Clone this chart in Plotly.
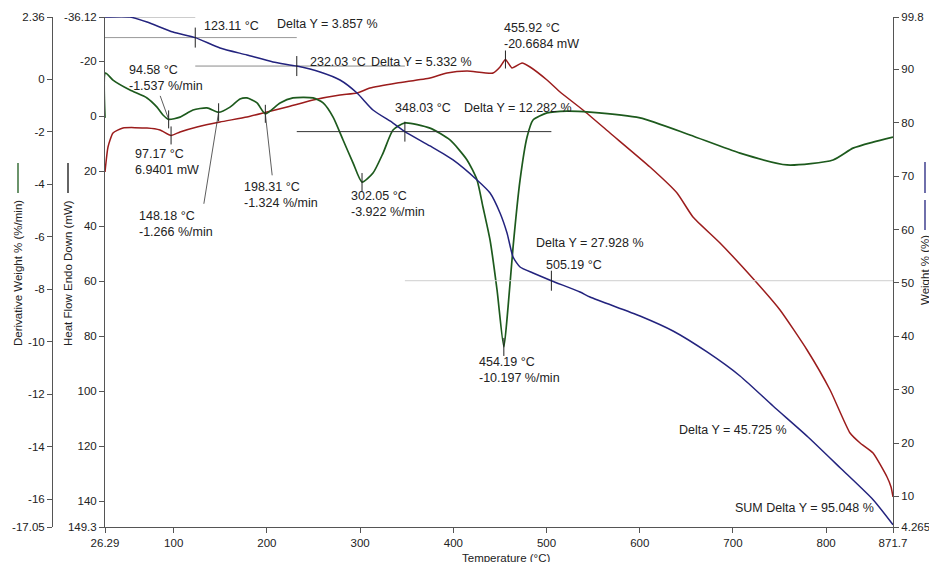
import plotly.graph_objects as go

# ---- Thermogram data -------------------------------------------------------
# Weight % (TGA) vs temperature
temp_w = [26.29, 53.1, 71.4, 99.2, 123.11, 149.7, 178.6, 206.5, 232.03, 257.0,
          278.4, 296.7, 313.8, 335.3, 348.03, 375.0, 399.7, 425.4, 439.4, 450.1,
          457.6, 464.1, 471.6, 485.5, 505.19, 535.9, 546.6, 600.3, 635.7, 672.2,
          707.6, 743.0, 780.5, 815.2, 850.6, 871.7]
weight = [99.8, 99.8, 98.86, 96.99, 95.94, 94.0, 92.68, 91.37, 90.61, 89.5,
          88.0, 85.56, 82.38, 79.94, 78.33, 75.64, 73.02, 69.27, 66.83, 63.09,
          59.34, 54.84, 52.97, 51.85, 50.40, 48.29, 47.35, 43.79, 40.98, 37.05,
          32.55, 26.93, 21.13, 15.32, 9.33, 4.68]

# Derivative weight % (DTG, %/min)
temp_d = [26.29, 26.8, 34.87, 53.11, 71.35, 82.08, 88.52, 94.58, 106.76, 120.71,
          135.73, 148.18, 160.4, 171.1, 178.6, 189.4, 198.31, 214.1, 228.0, 249.5,
          260.3, 271.0, 281.7, 292.5, 302.05, 313.8, 324.6, 335.3, 348.2, 375.0,
          396.4, 414.7, 425.4, 431.8, 439.4, 446.9, 454.19, 458.7, 464.1, 471.6,
          479.1, 485.5, 500.5, 521.8, 546.6, 600.3, 653.9, 707.6, 758.0, 807.4,
          828.8, 850.3, 871.7]
deriv = [-1.48, 0.23, -0.04, -0.42, -0.72, -1.07, -1.37, -1.537, -1.45, -1.18,
         -1.10, -1.266, -1.07, -0.76, -0.72, -0.91, -1.324, -0.91, -0.72, -0.72,
         -0.91, -1.45, -2.32, -3.20, -3.922, -3.58, -2.82, -1.94, -1.67, -1.87,
         -2.32, -3.08, -3.84, -4.87, -6.13, -8.03, -10.197, -8.68, -6.39, -3.84,
         -2.21, -1.56, -1.29, -1.22, -1.26, -1.48, -2.13, -2.82, -3.27, -3.08,
         -2.63, -2.40, -2.21]

# Heat flow (DSC, mW, endo down)
temp_h = [26.29, 29.51, 34.87, 45.6, 71.35, 85.3, 97.17, 106.76, 125.0, 149.7,
          178.6, 200.1, 221.6, 249.5, 278.4, 296.7, 310.6, 339.6, 375.0, 393.2,
          414.7, 442.6, 450.1, 455.92, 462.9, 473.7, 482.3, 500.5, 514.5, 539.1,
          568.1, 611.0, 640.0, 657.1, 686.1, 725.8, 750.5, 779.5, 804.2, 825.6,
          836.4, 850.3, 865.3, 869.6, 871.7]
heat = [20.23, 11.14, 6.05, 4.24, 4.24, 4.96, 6.9401, 5.69, 3.87, 2.05,
        0.24, -1.58, -3.40, -5.94, -7.76, -8.49, -10.31, -12.12, -13.94, -15.76,
        -16.49, -15.76, -17.94, -20.6684, -17.58, -19.40, -17.94, -13.21, -8.85, -2.31,
        6.05, 18.42, 27.87, 36.59, 46.05, 60.59, 70.41, 84.95, 99.49, 115.13,
        118.76, 122.40, 131.12, 134.76, 138.39]

# Weight-loss steps (step end temperatures and step sizes)
start_weight = 99.8
step_temps = [123.11, 232.03, 348.03, 505.19]
step_deltas = [3.857, 5.332, 12.282, 27.928]
last_delta = 45.725
sum_delta = 95.048

# DTG peaks and DSC peaks
dtg_peak_t = [94.58, 148.18, 198.31, 302.05, 454.19]
dtg_peak_v = [-1.537, -1.266, -1.324, -3.922, -10.197]
dsc_peak_t = [97.17, 455.92]
dsc_peak_v = [6.9401, -20.6684]

# Axis ticks
x_ticks = [26.29, 100, 200, 300, 400, 500, 600, 700, 800, 871.7]
hf_ticks = [-36.12, -20, 0, 20, 40, 60, 80, 100, 120, 140, 149.3]
dw_ticks = [2.36, 0, -2, -4, -6, -8, -10, -12, -14, -16, -17.05]
w_ticks = [99.8, 90, 80, 70, 60, 50, 40, 30, 20, 10, 4.265]

# ---- Styling ---------------------------------------------------------------
W, H = 929, 562
PL, PR, PT, PB = 105, 893, 17, 527
FONT = "Liberation Sans, Arial, sans-serif"
TXT = "#222222"
GREEN = "#1d5a1d"
RED = "#9b1c1c"
BLUE = "#23237e"
AX = "#555555"


def fmt(v):
    return f"{v:g}"


def py(pix):
    """vertical pixel -> paper fraction"""
    return (PB - pix) / (PB - PT)


fig = go.Figure()

# level lines of the weight-loss steps
levels = [start_weight]
for d in step_deltas:
    levels.append(levels[-1] - d)
final_weight = levels[-1] - last_delta
bounds = [temp_w[0]] + step_temps + [temp_w[-1]]
level_colors = ["#9a9a9a", "#9a9a9a", "#8a8a8a", "#333333", "#cfcfcf"]
for i, lv in enumerate(levels):
    x0 = bounds[max(i - 1, 0)]
    x1 = bounds[min(i + 1, len(bounds) - 1)]
    fig.add_trace(go.Scatter(x=[x0, x1], y=[lv, lv], yaxis="y3", mode="lines",
                             line=dict(color=level_colors[i], width=1),
                             hoverinfo="skip", showlegend=False))

fig.add_trace(go.Scatter(x=temp_h, y=heat, yaxis="y", mode="lines",
                         line=dict(color=RED, width=1.5, shape="spline", smoothing=0.5),
                         name="Heat Flow", showlegend=False))
fig.add_trace(go.Scatter(x=temp_w, y=weight, yaxis="y3", mode="lines",
                         line=dict(color=BLUE, width=1.5, shape="spline", smoothing=0.6),
                         name="Weight", showlegend=False))
fig.add_trace(go.Scatter(x=temp_d, y=deriv, yaxis="y2", mode="lines",
                         line=dict(color=GREEN, width=1.7, shape="spline", smoothing=0.6),
                         name="Derivative Weight", showlegend=False))

shapes = []
annotations = []


def tick_mark(x, y, yref, half=9):
    shapes.append(dict(type="line", xref="x", yref=yref, x0=x, x1=x,
                       ysizemode="pixel", yanchor=y, y0=-half, y1=half,
                       line=dict(color="#222222", width=1)))


def label(x, y, yref, text, xs, ys, size=12.5):
    annotations.append(dict(x=x, y=y, xref="x", yref=yref, text=text,
                            showarrow=False, xanchor="left", yanchor="middle",
                            align="left", xshift=xs, yshift=ys,
                            font=dict(family=FONT, size=size, color=TXT)))


def leader(x, y, yref, ax, ay):
    annotations.append(dict(x=x, y=y, xref="x", yref=yref, text="",
                            showarrow=True, arrowhead=0, arrowwidth=0.8,
                            arrowcolor="#333333", ax=ax, ay=ay,
                            standoff=0, startstandoff=0))


# weight-loss step markers and labels
step_levels = levels[1:]
for t, lv in zip(step_temps, step_levels):
    tick_mark(t, lv, "y3", 10)

label(step_temps[0], step_levels[0], "y3", f"{step_temps[0]:.2f} °C", 7, 12)
label(step_temps[0], step_levels[0], "y3", f"Delta Y = {step_deltas[0]:.3f} %", 80, 14)
label(step_temps[1], step_levels[1], "y3", f"{step_temps[1]:.2f} °C", 11, 4)
label(step_temps[1], step_levels[1], "y3", f"Delta Y = {step_deltas[1]:.3f} %", 72, 4)
label(step_temps[2], step_levels[2], "y3", f"{step_temps[2]:.2f} °C", -12, 24)
label(step_temps[2], step_levels[2], "y3", f"Delta Y = {step_deltas[2]:.3f} %", 57, 24)
label(step_temps[3], step_levels[3], "y3", f"{step_temps[3]:.2f} °C", -7, 16)
label(step_temps[3], step_levels[3], "y3", f"Delta Y = {step_deltas[3]:.3f} %", -17, 38)
label(step_temps[3], step_levels[3], "y3", f"Delta Y = {last_delta:.3f} %", 126, -149)
label(temp_w[-1], final_weight, "y3", f"SUM Delta Y = {sum_delta:.3f} %", -160, 17)

# DTG peaks
dtg_offsets = [(-42, 41), (-82, -112), (-23, -81), (-13, -22), (-27, -23)]
for t, v, (xs, ys) in zip(dtg_peak_t, dtg_peak_v, dtg_offsets):
    tick_mark(t, v, "y2", 9)
    label(t, v, "y2", f"{t:.2f} °C<br>{v:.3f} %/min", xs, ys)
leader(dtg_peak_t[0], dtg_peak_v[0], "y2", -9, -25)
leader(dtg_peak_t[1], dtg_peak_v[1], "y2", -15, 93)
leader(dtg_peak_t[2], dtg_peak_v[2], "y2", 7, 63)

# DSC peaks
dsc_offsets = [(-38, -27), (-3, 24)]
for t, v, (xs, ys) in zip(dsc_peak_t, dsc_peak_v, dsc_offsets):
    tick_mark(t, v, "y", 9)
    label(t, v, "y", f"{t:.2f} °C<br>{v:.4f} mW", xs, ys)

# axis titles with their line keys
title_font = dict(family=FONT, size=11.5, color=TXT)
for xpix, ypix, txt in [(18, 273, "Derivative Weight % (%/min)"),
                        (68, 273, "Heat Flow Endo Down (mW)"),
                        (925, 270, "Weight % (%)")]:
    annotations.append(dict(x=xpix / W, y=py(ypix), xref="paper", yref="paper",
                            text=txt, textangle=-90, showarrow=False,
                            xanchor="center", yanchor="middle", font=title_font))
annotations.append(dict(x=506 / W, y=py(558), xref="paper", yref="paper",
                        text="Temperature (°C)", showarrow=False,
                        xanchor="center", yanchor="middle", font=title_font))

for xpix, (y0, y1), col in [(18, (163, 193), GREEN), (68, (163, 193), "#111111"),
                            (925, (162, 193), BLUE), (925, (200, 230), BLUE)]:
    shapes.append(dict(type="line", xref="paper", yref="paper",
                       x0=xpix / W, x1=xpix / W, y0=py(y0), y1=py(y1),
                       line=dict(color=col, width=1.3)))

tickfont = dict(family=FONT, size=11.5, color=TXT)
common = dict(showgrid=False, zeroline=False, showline=True, linecolor=AX,
              linewidth=1, ticks="outside", ticklen=5, tickcolor=AX,
              tickfont=tickfont, automargin=False)

fig.update_layout(
    width=W, height=H,
    margin=dict(l=0, r=0, t=PT, b=H - PB, autoexpand=False),
    paper_bgcolor="white", plot_bgcolor="white",
    showlegend=False,
    xaxis=dict(domain=[PL / W, PR / W], range=[x_ticks[0], x_ticks[-1]],
               tickvals=x_ticks, ticktext=[fmt(v) for v in x_ticks],
               anchor="y", **common),
    yaxis=dict(range=[hf_ticks[-1], hf_ticks[0]], tickvals=hf_ticks,
               ticktext=[fmt(v) for v in hf_ticks], anchor="x", side="left",
               **common),
    yaxis2=dict(range=[dw_ticks[-1], dw_ticks[0]], tickvals=dw_ticks,
                ticktext=[fmt(v) for v in dw_ticks], overlaying="y",
                anchor="free", position=52 / W, side="left", **common),
    yaxis3=dict(range=[w_ticks[-1], w_ticks[0]], tickvals=w_ticks,
                ticktext=[fmt(v) for v in w_ticks], overlaying="y",
                anchor="x", side="right", **common),
    shapes=shapes,
    annotations=annotations,
)

fig.write_html("out.html")
